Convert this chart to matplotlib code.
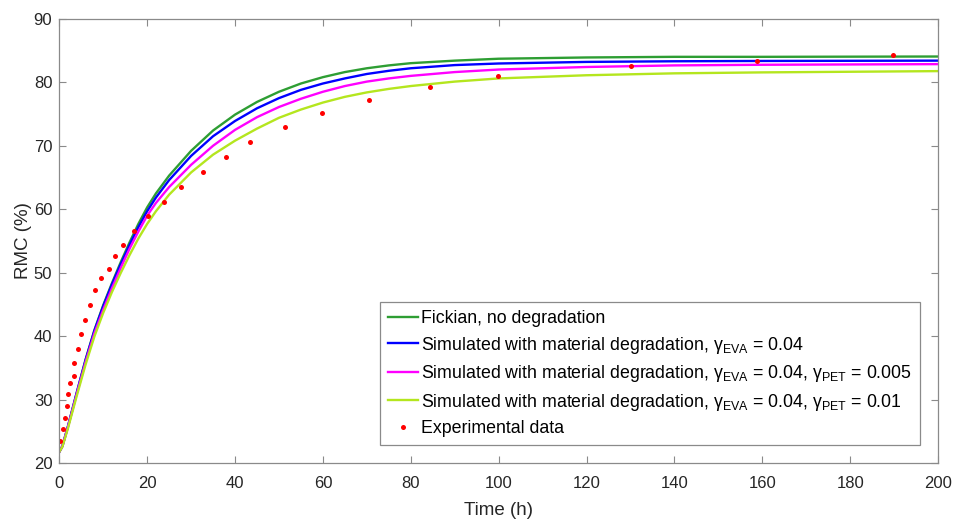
import matplotlib
matplotlib.use("Agg")
import matplotlib.pyplot as plt

plt.rcParams['font.family'] = ['Liberation Sans', 'DejaVu Sans']
plt.rcParams['mathtext.fontset'] = 'custom'
plt.rcParams['mathtext.rm'] = 'Liberation Sans'
plt.rcParams['mathtext.sf'] = 'Liberation Sans'
plt.rcParams['mathtext.it'] = 'Liberation Sans:italic'

# ---- data ----
t_sim = [0, 0.7, 2, 4, 6, 8, 10, 12, 14, 16, 18, 20, 22, 25, 30, 35, 40, 45,
         50, 55, 60, 65, 70, 75, 80, 90, 100, 120, 140, 160, 200]

fickian = [21.8, 22.7, 25.9, 31.2, 36.4, 41.0, 44.9, 48.4, 51.7, 54.8, 57.7,
           60.3, 62.5, 65.3, 69.2, 72.4, 74.9, 76.9, 78.5, 79.8, 80.8, 81.6,
           82.2, 82.65, 83.0, 83.4, 83.7, 83.9, 84.0, 84.0, 84.05]
deg_eva = [21.8, 22.7, 25.9, 31.2, 36.3, 40.9, 44.75, 48.2, 51.4, 54.4, 57.2,
           59.7, 61.85, 64.6, 68.4, 71.5, 73.9, 75.9, 77.5, 78.8, 79.8, 80.6,
           81.3, 81.8, 82.2, 82.7, 82.95, 83.2, 83.3, 83.35, 83.4]
deg_eva_pet005 = [21.8, 22.7, 25.8, 31.0, 36.0, 40.5, 44.2, 47.6, 50.8, 53.8,
                  56.5, 59.0, 61.0, 63.5, 67.0, 70.0, 72.5, 74.5, 76.1, 77.4,
                  78.5, 79.4, 80.1, 80.6, 81.0, 81.6, 82.0, 82.4, 82.65, 82.75,
                  82.85]
deg_eva_pet01 = [21.8, 22.6, 25.6, 30.7, 35.6, 40.0, 43.7, 47.0, 50.0, 52.8,
                 55.4, 57.7, 59.7, 62.3, 65.8, 68.6, 70.8, 72.7, 74.4, 75.7,
                 76.8, 77.7, 78.4, 78.95, 79.4, 80.1, 80.6, 81.1, 81.4, 81.55,
                 81.75]

t_exp = [0.16, 0.84, 1.3, 1.69, 2.05, 2.44, 3.28, 3.42, 4.26, 5.0, 5.9, 7.06,
         8.2, 9.43, 11.2, 12.7, 14.6, 16.9, 20.1, 23.9, 27.7, 32.8, 38.0, 43.4,
         51.3, 59.9, 70.6, 84.4, 99.8, 130.2, 158.9, 189.7]
rmc_exp = [23.5, 25.4, 27.2, 29.1, 30.9, 32.7, 33.8, 35.8, 38.0, 40.3, 42.6,
           44.9, 47.3, 49.1, 50.6, 52.6, 54.4, 56.6, 58.9, 61.1, 63.5, 65.8,
           68.2, 70.6, 73.0, 75.2, 77.2, 79.3, 81.0, 82.6, 83.4, 84.3]

labels = [
    'Fickian, no degradation',
    r'Simulated with material degradation, $\mathrm{\gamma}_{\mathrm{EVA}}$ = 0.04',
    r'Simulated with material degradation, $\mathrm{\gamma}_{\mathrm{EVA}}$ = 0.04, $\mathrm{\gamma}_{\mathrm{PET}}$ = 0.005',
    r'Simulated with material degradation, $\mathrm{\gamma}_{\mathrm{EVA}}$ = 0.04, $\mathrm{\gamma}_{\mathrm{PET}}$ = 0.01',
    'Experimental data',
]
colors = ['#2e9e33', '#0000ff', '#ff00ff', '#b4e61e']

xticks = list(range(0, 201, 20))
yticks = list(range(20, 91, 10))

# ---- figure ----
fig = plt.figure(figsize=(9.55, 5.2), dpi=100)
ax = fig.add_axes([0.0621, 0.109, 0.9201, 0.855])

for ys, c, lab in zip([fickian, deg_eva, deg_eva_pet005, deg_eva_pet01], colors, labels[:4]):
    ax.plot(t_sim, ys, color=c, lw=1.7, label=lab, solid_joinstyle='round')
ax.plot(t_exp, rmc_exp, linestyle='none', marker='o', ms=3.6, mfc='#ff0000',
        mec='none', label=labels[4])

ax.set_xlim(0, 200)
ax.set_ylim(20, 90)
ax.set_xticks(xticks)
ax.set_yticks(yticks)
axcol = '#262626'
for s in ax.spines.values():
    s.set_color('#8a8a8a')
    s.set_linewidth(0.9)
ax.tick_params(direction='in', length=5, width=0.8, color='#8a8a8a',
               labelsize=12, labelcolor=axcol, top=True, right=True)
ax.tick_params(axis='x', pad=9)
ax.tick_params(axis='y', pad=5)
ax.set_xlabel('Time (h)', fontsize=13.5, color=axcol, labelpad=8)
ax.set_ylabel('RMC (%)', fontsize=13.5, color=axcol, labelpad=1)

leg = ax.legend(loc='lower right', bbox_to_anchor=(0.9795, 0.0412),
                borderaxespad=0, fontsize=12.8, handlelength=1.7,
                handletextpad=0.2, borderpad=0.45, labelspacing=0.42,
                fancybox=False, framealpha=1, edgecolor='#8a8a8a')
leg.get_frame().set_linewidth(0.9)
for txt in leg.get_texts():
    txt.set_color('#000000')

fig.savefig('out.png', dpi=100)
